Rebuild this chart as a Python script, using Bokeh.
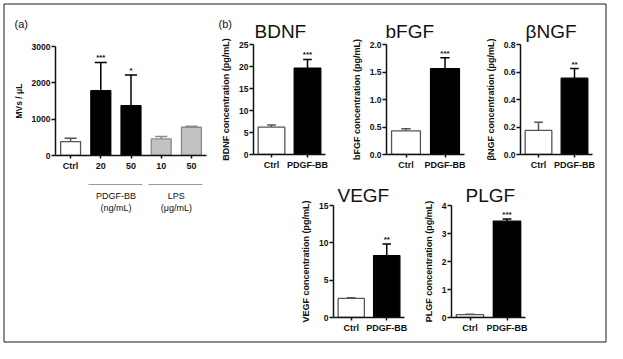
from bokeh.plotting import figure
from bokeh.models import (Range1d, FactorRange, FixedTicker, LinearAxis, GridBox,
                          Spacer, NumeralTickFormatter, ColumnDataSource)
from bokeh.transform import dodge
from bokeh.layouts import row, column
from bokeh.embed import file_html
from bokeh.resources import INLINE
from bokeh.core.properties import value

FONT = "Liberation Sans"

# ---------------- data ----------------
# panel (a): microvesicles
mv_categories = ["Ctrl", "20", "50", "10", "50"]
mv_means = [384, 1783, 1372, 457, 777]
mv_errors = [91, 778, 841, 64, 28]
mv_stars = ["", "***", "*", "", ""]
mv_groups = ["PDGF-BB", "LPS"]
mv_group_units = ["(ng/mL)", "(\u03bcg/mL)"]
mv_group_members = [[1, 2], [3, 4]]
mv_ticks = [0, 1000, 2000, 3000]

# panel (b): growth factors
conditions = ["Ctrl", "PDGF-BB"]
bdnf_means = [6.2, 19.6]
bdnf_errors = [0.5, 2.0]
bdnf_stars = ["", "***"]
bdnf_ticks = [0, 5, 10, 15, 20, 25]

bfgf_means = [0.43, 1.56]
bfgf_errors = [0.04, 0.20]
bfgf_stars = ["", "***"]
bfgf_ticks = [0, 0.5, 1.0, 1.5, 2.0]

bngf_means = [0.175, 0.555]
bngf_errors = [0.06, 0.07]
bngf_stars = ["", "**"]
bngf_ticks = [0, 0.2, 0.4, 0.6, 0.8]

vegf_means = [2.55, 8.3]
vegf_errors = [0.08, 1.55]
vegf_stars = ["", "**"]
vegf_ticks = [0, 5, 10, 15]

plgf_means = [0.1, 3.44]
plgf_errors = [0.02, 0.08]
plgf_stars = ["", "***"]
plgf_ticks = [0, 1, 2, 3, 4]

# ---------------- styles ----------------
mv_fill = ["white", "black", "black", "#c2c2c2", "#c2c2c2"]
mv_line = ["#555555", "black", "black", "#8a8a8a", "#8a8a8a"]
gf_fill = ["white", "black"]
gf_line = ["#555555", "black"]
INK = "#111111"


def style_axes(p, ticks, fmt, ylabel, ylabel_size):
    ya = p.yaxis[0]
    ya.ticker = FixedTicker(ticks=ticks)
    ya.formatter = NumeralTickFormatter(format=fmt)
    ya.axis_label = ylabel
    ya.axis_label_text_font = FONT
    ya.axis_label_text_font_style = "bold"
    ya.axis_label_text_font_size = ylabel_size
    ya.axis_label_text_color = INK
    ya.axis_label_standoff = 5
    for ax in (p.xaxis[0], ya):
        ax.major_label_text_font = FONT
        ax.major_label_text_font_style = "bold"
        ax.major_tick_in = 0
        ax.minor_tick_line_color = None
        ax.axis_line_width = 1.5
        ax.major_tick_line_width = 1.5
        ax.axis_line_color = INK
        ax.major_tick_line_color = INK
        ax.major_label_text_color = INK
    ya.major_label_text_font_size = "8.5px"
    ya.major_tick_out = 4
    ya.major_label_standoff = 1
    xa = p.xaxis[0]
    xa.major_label_text_font_size = "9px"
    xa.major_tick_out = 3
    xa.major_label_standoff = 2
    p.grid.visible = False
    p.outline_line_color = None


# ---------------- panel (a) ----------------
A_W, A_H, A_L, A_R, A_T, A_B = 214, 339, 51, 12, 42, 188
pa = figure(width=A_W, height=A_H, x_range=Range1d(-0.5, len(mv_categories) - 0.5),
            y_range=Range1d(0, mv_ticks[-1]),
            min_border_left=A_L, min_border_right=A_R, min_border_top=A_T, min_border_bottom=A_B,
            output_backend="svg", toolbar_location=None)
style_axes(pa, mv_ticks, "0", "MVs / \u03bcL", "8.5px")
xs = list(range(len(mv_categories)))
pa.xaxis[0].ticker = FixedTicker(ticks=xs)
pa.xaxis[0].major_label_overrides = {i: c for i, c in enumerate(mv_categories)}
pa.xaxis[0].axis_label = " "
pa.xaxis[0].axis_label_text_font_size = "2px"
pa.xaxis[0].axis_label_standoff = 6
tops = [m + e for m, e in zip(mv_means, mv_errors)]
src_a = ColumnDataSource(dict(x=xs, mean=mv_means, top=tops, fill=mv_fill, line=mv_line,
                              x0=[x - 0.2 for x in xs], x1=[x + 0.2 for x in xs], stars=mv_stars))
pa.segment(x0="x", y0="mean", x1="x", y1="top", line_color="line", line_width=1.5, source=src_a)
pa.segment(x0="x0", y0="top", x1="x1", y1="top", line_color="line", line_width=1.5, source=src_a)
pa.vbar(x="x", top="mean", bottom=0, width=0.66, fill_color="fill", line_color="line",
        line_width=1.3, source=src_a)
pa.text(x="x", y="top", text="stars", text_font=value(FONT), text_font_style="bold",
        text_font_size="8px", text_align="center", text_baseline="bottom",
        text_color=INK, source=src_a)

# group underlines + labels as a second bottom axis (broken line via dash pattern)
unit_px = (A_W - A_L - A_R) / len(mv_categories)
pad = 0.4
g_start = mv_group_members[0][0] - pad
g_end = mv_group_members[-1][-1] + pad
span_px = (mv_group_members[0][-1] - mv_group_members[0][0] + 2 * pad) * unit_px
gap_px = (mv_group_members[1][0] - mv_group_members[0][-1] - 2 * pad) * unit_px
centers = [sum(m) / len(m) for m in mv_group_members]
grp_axis = LinearAxis(
    ticker=FixedTicker(ticks=centers),
    major_label_overrides={c: f"{n}\n{u}" for c, n, u in zip(centers, mv_groups, mv_group_units)},
    bounds=(g_start, g_end),
    axis_line_color="#9a9a9a", axis_line_width=1.2,
    axis_line_dash=f"{int(round(span_px))} {int(round(gap_px))}",
    major_tick_line_color=None, minor_tick_line_color=None,
    major_label_text_font=FONT, major_label_text_font_size="9px",
    major_label_text_color=INK, major_label_standoff=0)
pa.add_layout(grp_axis, "below")


# ---------------- panel (b) ----------------
def gf_panel(ylabel, means, errors, stars, ticks, fmt, width, height, bl, br, bt, bb):
    p = figure(width=width, height=height,
               x_range=FactorRange(factors=conditions, range_padding=0),
               y_range=Range1d(0, ticks[-1]),
               min_border_left=bl, min_border_right=br, min_border_top=bt, min_border_bottom=bb,
               output_backend="svg", toolbar_location=None)
    style_axes(p, ticks, fmt, ylabel, "9px")
    tops = [m + e for m, e in zip(means, errors)]
    src = ColumnDataSource(dict(x=conditions, mean=means, top=tops, fill=gf_fill,
                                line=gf_line, stars=stars))
    p.segment(x0="x", y0="mean", x1="x", y1="top", line_color="line", line_width=1.5, source=src)
    p.segment(x0=dodge("x", -0.12, range=p.x_range), y0="top",
              x1=dodge("x", 0.12, range=p.x_range), y1="top",
              line_color="line", line_width=1.5, source=src)
    p.vbar(x="x", top="mean", bottom=0, width=0.74, fill_color="fill", line_color="line",
           line_width=1.3, source=src)
    p.text(x="x", y="top", text="stars", text_font=value(FONT), text_font_style="bold",
           text_font_size="8px", text_align="center", text_baseline="bottom",
           text_color=INK, source=src)
    return p


p_bdnf = gf_panel("BDNF concentration (pg/mL)", bdnf_means, bdnf_errors, bdnf_stars,
                  bdnf_ticks, "0", 130, 168, 33, 23, 40, 16)
p_bfgf = gf_panel("bFGF concentration (pg/mL)", bfgf_means, bfgf_errors, bfgf_stars,
                  bfgf_ticks, "0.0", 134, 168, 33, 18, 40, 16)
p_bngf = gf_panel("\u03b2NGF concentration (pg/mL)", bngf_means, bngf_errors,
                  bngf_stars, bngf_ticks, "0.0", 123, 168, 33, 13, 40, 16)
p_vegf = gf_panel("VEGF concentration (pg/mL)", vegf_means, vegf_errors, vegf_stars,
                  vegf_ticks, "0", 120, 170, 33, 14, 33, 25)
p_plgf = gf_panel("PLGF concentration (pg/mL)", plgf_means, plgf_errors, plgf_stars,
                  plgf_ticks, "0", 120, 170, 33, 13, 33, 25)

right_top = row(p_bdnf, p_bfgf, p_bngf)
right_bottom = row(Spacer(width=80, height=170), p_vegf, p_plgf, Spacer(width=67, height=170))
right = column(right_top, right_bottom)
content = column(Spacer(width=605, height=4), row(Spacer(width=4, height=339), pa, right))

# ---------------- decoration layer: outer frame, panel letters, titles ----------------
W, H = 607, 343
deco = figure(width=W, height=H, x_range=Range1d(0, W), y_range=Range1d(H, 0),
              min_border=0, x_axis_location=None, y_axis_location=None,
              background_fill_color=None, border_fill_color=None, outline_line_color=None,
              output_backend="svg", toolbar_location=None)
deco.grid.visible = False
deco.quad(left=[3.5], right=[W - 1.5], top=[3.5], bottom=[H - 1.5],
          fill_color=None, line_color="#1a1a1a", line_width=1)
letters = ["(a)", "(b)"]
letter_x = [14, 218]
letter_y = [23, 23]
deco.text(x=letter_x, y=letter_y, text=letters, text_font=value(FONT), text_font_size="11px",
          text_baseline="alphabetic", text_color=INK)
titles = ["BDNF", "bFGF", "\u03b2NGF", "VEGF", "PLGF"]
title_x = [254, 385, 525, 337, 465]
title_y = [31, 31, 31, 195, 195]
deco.text(x=title_x, y=title_y, text=titles, text_font=value(FONT), text_font_size="19px",
          text_baseline="alphabetic", text_color=INK)

page = GridBox(children=[(content, 0, 0), (deco, 0, 0)])

open("out.html", "w").write(file_html(page, INLINE))
